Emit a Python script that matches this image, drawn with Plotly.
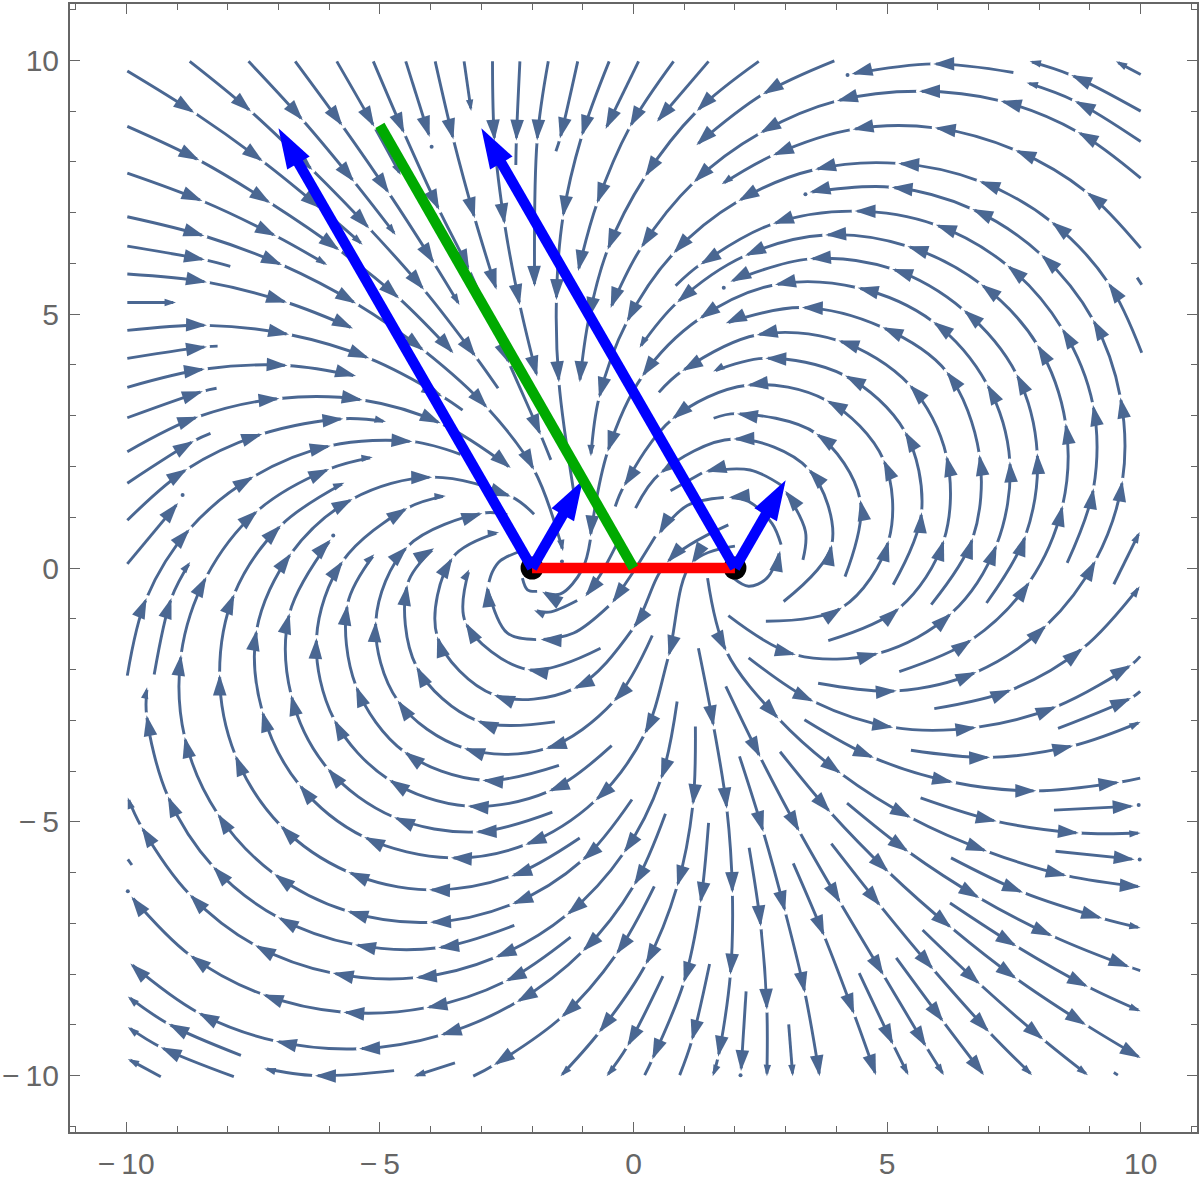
import math

import plotly.graph_objects as go

# streamlines, in axis units.
# every point after the first one carries an arrowhead, the curve breaks just past it
arrow_chains = [
    [(-9.98, 8.70), (-8.56, 8.03), (-7.16, 7.19), (-5.80, 6.26), (-4.62, 5.31), (-3.55, 4.23)],
    [(-9.98, 5.79), (-8.41, 5.63), (-6.83, 5.23), (-5.53, 4.72)],
    [(-9.98, 3.56), (-8.45, 3.92), (-6.82, 3.99), (-5.47, 3.78)],
    [(-9.98, 2.29), (-8.58, 2.98), (-6.98, 3.34), (-5.34, 3.31), (-3.80, 2.85), (-2.42, 1.97)],
    [(-9.98, 0.08), (-8.98, 1.28)],
    [(-1.55, -3.03), (-3.08, -3.01), (-4.28, -1.94), (-4.46, -0.33), (-3.93, 0.39)],
    [(-1.60, -4.81), (-3.11, -5.20), (-4.72, -4.91), (-6.03, -3.95), (-6.75, -2.50), (-6.78, -0.89), (-5.97, 0.56)],
    [(5.87, -0.72), (6.69, 0.59), (6.82, 2.23), (6.17, 3.87), (4.91, 4.74), (3.32, 5.13), (1.82, 4.82)],
    [(1.87, -0.94), (3.20, -1.71), (4.83, -1.68), (6.27, -0.89), (7.16, 0.46), (7.42, 2.10), (6.97, 3.62),
     (5.91, 4.85), (4.42, 5.52), (2.79, 5.58), (1.30, 4.91), (0.17, 3.77), (-0.51, 2.29), (-0.85, 0.62)],
    [(6.96, -0.69), (7.73, 0.64), (7.96, 2.26), (7.55, 3.82), (6.51, 5.08), (5.10, 5.89), (3.48, 6.09), (1.91, 5.64)],
    [(3.64, -2.27), (5.19, -2.42), (6.76, -2.05), (8.14, -1.13), (9.11, 0.15), (9.64, 1.72), (9.60, 3.36),
     (9.06, 4.89), (8.04, 6.17), (6.68, 7.07), (5.09, 7.50), (3.47, 7.40)],
    [(3.96, 9.99), (2.55, 9.33), (1.24, 8.33)],
    [(2.47, 9.98), (1.25, 9.00), (0.23, 7.71), (-0.51, 6.27), (-0.88, 4.92), (-1.06, 3.66)],
    [(1.48, 9.98), (0.46, 8.79)],
    [(0.79, 9.98), (-0.07, 8.69), (-0.72, 7.18), (-1.09, 5.85)],
    [(0.10, 9.98), (-0.55, 8.65)],
    [(-1.68, 9.98), (-1.90, 8.42), (-1.95, 5.54)],
    [(-2.78, 9.98), (-2.74, 8.42), (-2.54, 6.77), (-2.24, 5.18), (-1.90, 3.77)],
    [(-3.91, 9.98), (-3.55, 8.44), (-3.13, 6.89), (-2.70, 5.48)],
    [(-4.49, 9.98), (-4.02, 8.49)],
    [(10.0, 7.68), (8.76, 8.59), (7.24, 9.20), (5.63, 9.39), (4.01, 9.20), (2.50, 8.57), (1.19, 7.60), (0.15, 6.31), (-0.45, 5.12)],
    [(7.49, 9.76), (5.91, 9.93), (4.30, 9.73)],
    [(1.46, -0.20), (1.83, -1.64), (2.86, -2.97), (4.09, -4.05), (5.47, -4.92), (6.97, -5.58), (8.54, -6.06), (10.0, -6.28)],
    [(8.29, -4.77), (9.86, -4.69)],
    [(8.32, -5.58), (9.88, -5.74)],
    [(2.89, -3.62), (3.88, -4.81), (5.03, -5.99), (6.27, -7.09), (7.55, -8.09), (8.92, -9.00), (10.0, -9.65)],
    [(-1.24, -7.27), (-2.52, -8.14), (-4.08, -8.66), (-5.72, -8.75), (-7.31, -8.40), (-8.74, -7.63), (-9.90, -6.47)],
    [(0.63, -4.84), (0.01, -6.25), (-1.00, -7.55), (-2.30, -8.55), (-3.80, -9.20), (-5.41, -9.47), (-7.05, -9.32), (-8.58, -8.76), (-9.92, -7.79)],
    [(2.09, -3.71), (2.56, -5.20), (2.99, -6.77), (3.38, -8.37), (3.67, -10.01)],
    [(3.15, -5.82), (3.76, -7.25), (4.35, -8.79), (4.78, -9.99)],
    [(5.18, -7.68), (6.11, -8.94), (6.91, -9.99)],
    [(2.22, -8.34), (2.12, -9.91)],
]

# same, the last arrowhead of the line is a small one
small_end_chains = [
    [(-9.98, 9.79), (-8.66, 8.97), (-7.31, 8.01), (-6.16, 7.08), (-5.34, 6.37)],
    [(-9.98, 7.78), (-8.50, 7.23), (-7.05, 6.54), (-6.04, 5.97)],
    [(-9.98, 5.23), (-9.02, 5.23)],
    [(-9.98, 6.92), (-8.46, 6.54), (-6.93, 5.97), (-5.47, 5.21), (-4.13, 4.28), (-2.88, 3.15), (-1.96, 1.93), (-1.39, 0.33)],
    [(-9.98, 0.94), (-8.80, 1.95), (-7.32, 2.64), (-5.72, 2.94), (-4.88, 2.88)],
    [(-9.45, -2.10), (-9.11, -0.59), (-8.74, 0.12)],
    [(-0.03, -4.56), (-1.01, -5.76), (-2.39, -6.62), (-4.01, -6.98), (-5.64, -6.76), (-7.08, -6.03), (-8.20, -4.84),
     (-8.85, -3.33), (-8.92, -1.71), (-8.42, -0.17), (-7.41, 1.13), (-6.00, 1.95), (-5.14, 2.18)],
    [(-1.06, -5.32), (-2.41, -6.07), (-4.03, -6.34), (-5.62, -5.99), (-6.96, -5.07), (-7.85, -3.69), (-8.16, -2.10),
     (-7.87, -0.51), (-6.95, 0.84), (-5.70, 1.68)],
    [(-0.43, -3.50), (-1.67, -4.40), (-3.27, -4.69), (-4.82, -4.17), (-5.90, -2.99), (-6.25, -1.38), (-5.73, 0.14), (-4.46, 1.18), (-3.70, 1.42)],
    [(-1.47, -3.89), (-2.98, -4.18), (-4.52, -3.62), (-5.47, -2.33), (-5.64, -0.72), (-5.11, 0.27)],
    [(1.87, 0.85), (0.66, 0.11), (0.00, -1.18), (-1.18, -2.38), (-2.75, -2.50), (-3.87, -1.35), (-3.57, 0.20), (-2.65, 0.70)],
    [(-0.65, -1.58), (-2.09, -2.00), (-3.31, -1.08), (-3.24, -0.03)],
    [(5.12, -0.33), (5.68, 1.10), (5.35, 2.69), (4.17, 3.79), (2.60, 4.13), (1.57, 3.87)],
    [(5.24, -2.04), (6.67, -1.41), (7.81, -0.27), (8.46, 1.23), (8.52, 2.85), (7.96, 4.40), (6.85, 5.59), (5.40, 6.34),
     (3.78, 6.56), (2.20, 6.15), (0.86, 5.23), (0.12, 4.34)],
    [(10.0, 6.30), (8.94, 7.40), (7.53, 8.23), (5.94, 8.67), (4.32, 8.64), (2.75, 8.13), (1.74, 7.56)],
    [(10.02, 4.24), (9.36, 5.62), (8.24, 6.82), (6.82, 7.62), (5.22, 7.97), (3.58, 7.85), (2.07, 7.23), (0.79, 6.20),
     (-0.13, 4.85), (-0.68, 3.35), (-0.84, 2.20)],
    [(10.0, 8.40), (8.70, 9.20), (7.75, 9.56)],
    [(10.0, 9.00), (8.63, 9.71), (7.81, 9.98)],
    [(10.0, 9.72), (9.51, 9.98)],
    [(-3.34, 9.98), (-3.20, 9.00)],
    [(-5.85, 9.98), (-5.11, 8.69), (-4.59, 7.74)],
    [(-6.67, 9.98), (-5.74, 8.71), (-4.82, 7.38), (-3.93, 6.00), (-3.43, 5.18)],
    [(-7.59, 9.98), (-6.52, 8.82), (-5.51, 7.61), (-4.69, 6.56)],
    [(5.93, -2.77), (7.45, -2.40), (8.86, -1.58), (9.98, -0.36)],
    [(9.47, -0.32), (9.98, 0.71)],
    [(5.47, -3.59), (7.03, -3.73), (8.67, -3.50), (10.0, -3.03)],
    [(5.66, -4.53), (7.16, -4.99), (8.78, -5.22), (10.0, -5.22)],
    [(6.26, -5.71), (7.68, -6.39), (9.24, -6.90), (10.0, -7.09)],
    [(3.90, -5.43), (4.87, -6.66), (5.91, -7.91), (7.01, -9.14), (7.86, -9.99)],
    [(6.24, -6.60), (7.55, -7.45), (8.96, -8.25), (10.0, -8.73)],
    [(5.70, -7.13), (6.83, -8.20), (8.08, -9.29), (8.96, -9.99)],
    [(4.45, -7.98), (5.12, -9.39), (5.42, -9.99)],
    [(1.82, -2.33), (2.50, -3.73), (3.27, -5.19), (4.08, -6.60), (4.93, -8.02), (5.77, -9.43), (6.12, -9.99)],
    [(1.28, -1.58), (1.58, -3.12), (1.84, -4.74), (1.95, -6.40), (1.91, -8.01), (1.67, -9.63), (1.56, -10.01)],
    [(1.22, -3.12), (1.17, -4.67), (0.86, -6.27), (0.24, -7.81), (-0.68, -9.15), (-1.44, -10.01)],
    [(0.86, -2.63), (0.54, -4.16), (-0.19, -5.61), (-1.31, -6.83), (-2.72, -7.67), (-4.29, -8.07), (-5.93, -7.98),
     (-7.46, -7.43), (-8.75, -6.43), (-9.70, -5.10), (-9.97, -4.52)],
    [(-2.35, -7.04), (-3.85, -7.48), (-5.49, -7.42), (-7.01, -6.88), (-8.29, -5.88), (-9.18, -4.50), (-9.60, -2.90), (-9.59, -2.35)],
    [(-7.74, -9.60), (-9.17, -8.98), (-9.97, -8.44)],
    [(-7.88, -10.02), (-9.32, -9.44), (-9.97, -9.04)],
    [(-9.32, -10.02), (-9.97, -9.67)],
    [(-4.72, -9.90), (-6.28, -10.0), (-7.28, -9.86)],
    [(-3.52, -9.75), (-4.33, -10.01)],
    [(0.58, -8.04), (-0.12, -9.42), (-0.53, -10.01)],
    [(2.28, -5.51), (2.51, -7.06), (2.63, -8.70), (2.63, -10.01)],
    [(3.06, -8.99), (3.14, -10.01)],
]

# same, the line stops in a short piece without arrowhead
dash_end_chains = [
    [(-9.98, 6.34), (-8.45, 6.07), (-7.95, 5.94)],
    [(-9.98, 4.68), (-8.41, 4.78), (-6.79, 4.60), (-5.21, 4.13), (-3.77, 3.38), (-3.37, 3.11)],
    [(-9.98, 4.13), (-8.41, 4.36), (-8.20, 4.37)],
    [(-9.98, 2.96), (-8.49, 3.48), (-8.22, 3.54)],
    [(-9.98, 1.67), (-8.67, 2.50), (-8.34, 2.65)],
    [(-9.98, -2.12), (-9.60, -0.59), (-8.75, 0.77), (-7.49, 1.80), (-5.97, 2.41), (-4.36, 2.49), (-3.41, 2.24)],
    [(2.00, 0.43), (1.15, 0.10), (0.69, -1.74), (0.22, -3.27), (-0.75, -4.58), (-2.13, -5.45), (-3.60, -5.71), (-5.31, -5.30),
     (-6.59, -4.27), (-7.32, -2.82), (-7.43, -1.22), (-6.75, 0.29), (-5.54, 1.36), (-3.97, 1.79), (-2.42, 1.41), (-1.96, 1.06)],
    [(0.37, -1.33), (-0.39, -2.63), (-1.73, -3.56), (-3.34, -3.55), (-4.65, -2.61), (-5.08, -1.05), (-4.46, 0.42), (-2.98, 1.08), (-2.49, 1.05)],
    [(2.96, -0.66), (3.91, 0.46), (3.45, 1.95), (1.97, 2.54), (0.53, 1.87), (0.04, 1.18)],
    [(4.17, -0.17), (4.47, 1.34), (3.60, 2.65), (2.04, 3.04), (1.58, 2.95)],
    [(2.61, -1.05), (4.11, -0.78), (5.03, 0.54), (4.93, 2.13), (3.81, 3.30), (2.24, 3.60), (0.76, 2.93), (-0.19, 1.61), (-0.36, 1.21)],
    [(3.84, -1.43), (5.24, -0.79), (6.12, 0.55), (6.17, 2.21), (5.44, 3.61), (4.04, 4.48), (2.43, 4.59), (0.96, 3.88), (0.50, 3.46)],
    [(8.55, 0.10), (9.07, 1.57), (9.06, 3.21), (8.45, 4.72), (7.37, 5.96), (5.96, 6.76), (4.36, 7.03), (2.75, 6.78), (1.32, 5.98), (0.83, 5.56)],
    [(-1.10, 9.98), (-1.45, 8.46), (-1.53, 8.21)],
    [(-2.24, 9.98), (-2.31, 8.42), (-2.32, 7.94)],
    [(-0.48, 9.98), (-1.02, 8.51), (-1.39, 6.92), (-1.52, 5.28), (-1.47, 3.66), (-1.18, 1.51)],
    [(-5.13, 9.98), (-4.52, 8.56), (-3.83, 7.05), (-3.24, 5.87), (-2.45, 4.03), (-1.83, 2.62), (-1.63, 2.13)],
    [(-8.75, 9.98), (-7.54, 8.99), (-6.33, 7.84), (-5.21, 6.69), (-4.13, 5.48), (-3.11, 4.16), (-2.67, 3.54)],
    [(2.27, -1.77), (3.55, -2.63), (5.12, -3.14), (6.76, -3.14), (8.34, -2.73), (9.81, -1.91), (9.99, -1.74)],
    [(8.37, -3.16), (9.81, -2.56), (9.99, -2.43)],
    [(3.37, -2.99), (4.74, -3.74), (6.30, -4.22), (7.94, -4.39), (9.58, -4.22), (9.99, -4.14)],
    [(4.21, -4.63), (5.42, -5.59), (6.82, -6.50), (8.26, -7.25), (9.78, -7.86), (9.99, -7.93)],
    [(1.48, -5.02), (1.32, -6.60), (0.99, -8.17), (0.37, -9.68), (0.22, -9.99)],
    [(0.41, -6.27), (-0.34, -7.61), (-1.42, -8.85), (-2.75, -9.79), (-3.16, -10.01)],
    [(1.50, -7.80), (1.15, -9.31), (0.91, -9.99)],
]

# tight bends around the two discs: one head only, at the last point
curved_strokes = [
    [(1.97, -0.20), (2.27, -0.36), (2.63, -0.20), (2.89, 0.34)],
    [(2.91, 0.46), (2.73, 0.88), (2.27, 1.31), (1.88, 1.39)],
    [(1.78, 1.39), (1.06, 1.23), (0.50, 0.67)],
    [(0.43, 0.62), (0.00, -0.07), (-0.42, -0.69)],
    [(-0.49, -0.75), (-1.18, -1.28), (-1.83, -1.41)],
    [(-1.92, -1.41), (-2.49, -1.28), (-2.89, -0.36)],
    [(3.34, 0.16), (3.39, 0.72), (2.99, 1.52)],
    [(2.96, 1.60), (2.30, 1.93), (1.42, 1.90)],
    [(-0.85, 0.56), (-1.01, -0.03), (-1.44, -0.51), (-1.80, -0.47)],
    [(-0.32, 0.49), (-0.65, -0.13), (-0.95, -0.56)],
]
curved_small_strokes = [
    [(-1.11, -0.64), (-1.67, -0.87), (-1.96, -0.83)],
]

# pieces with no head at all
plain_strokes = [
    [(-2.85, -0.28), (-2.78, -0.07), (-2.63, 0.14), (-2.23, 0.33)],
    [(1.35, 1.87), (0.73, 1.52)],
    [(-1.90, -0.46), (-2.09, -0.43), (-2.19, -0.20)],
    [(10.02, 5.58), (9.93, 5.72)],
    [(9.47, -9.94), (9.55, -9.99)],
    [(-9.97, -5.74), (-9.89, -5.85)],
]

dot_x = [-1.41, -8.89, -5.92, 3.39, 4.22, -3.98, 1.78, 9.96, 9.98, 2.11, -9.97]
dot_y = [0.13, 1.44, 0.64, 7.36, 9.71, 8.30, 5.52, -4.67, -5.74, -9.99, -6.37]

charge_x = [-2, 2]
charge_y = [0, 0]
separation_x = [-2, 2]
separation_y = [0, 0]
field_base = [(-2, 0), (2, 0), (-2, 0), (2, 0)]
field_tip = [(-7, 8.66), (-3, 8.66), (-1, 1.73), (3, 1.73)]
dipole_x = [0, -5]
dipole_y = [0, 8.72]

tick_vals = [-10, -5, 0, 5, 10]
tick_text = ["\u2212\u200910", "\u2212\u20095", "0", "5", "10"]
axis_range = [-11.11, 11.11]

STREAM_COLOR = "#4a6792"
FRAME_COLOR = "#666666"


def unit(dx, dy):
    n = math.hypot(dx, dy) or 1.0
    return dx / n, dy / n


def head_angle(pts, i):
    # plotly marker angle, clockwise from up, along the tangent of the spline
    if i < len(pts) - 1:
        dx, dy = pts[i + 1][0] - pts[i - 1][0], pts[i + 1][1] - pts[i - 1][1]
    elif len(pts) == 2:
        dx, dy = pts[1][0] - pts[0][0], pts[1][1] - pts[0][1]
    else:
        ax, ay = unit(pts[-1][0] - pts[-2][0], pts[-1][1] - pts[-2][1])
        bx, by = unit(pts[-1][0] - pts[-3][0], pts[-1][1] - pts[-3][1])
        dx, dy = 2 * ax - bx, 2 * ay - by
    return math.degrees(math.atan2(dx, dy))


line_x, line_y = [], []
head_x, head_y, head_a, head_s = [], [], [], []


def add_line(pts):
    line_x.extend([p[0] for p in pts] + [None])
    line_y.extend([p[1] for p in pts] + [None])


def add_head(pts, i, size):
    head_x.append(pts[i][0])
    head_y.append(pts[i][1])
    head_a.append(head_angle(pts, i))
    head_s.append(size)


for pts in arrow_chains:
    add_line(pts)
    for i in range(1, len(pts)):
        add_head(pts, i, 22)
for pts in small_end_chains:
    add_line(pts)
    for i in range(1, len(pts)):
        add_head(pts, i, 22 if i < len(pts) - 1 else 12)
for pts in dash_end_chains:
    add_line(pts)
    for i in range(1, len(pts) - 1):
        add_head(pts, i, 22)
for pts in curved_strokes:
    add_line(pts)
    add_head(pts, len(pts) - 1, 22)
for pts in curved_small_strokes:
    add_line(pts)
    add_head(pts, len(pts) - 1, 12)
for pts in plain_strokes:
    add_line(pts)

fig = go.Figure()
fig.add_trace(go.Scatter(x=line_x, y=line_y, mode="lines",
                         line=dict(color=STREAM_COLOR, width=2.9, shape="spline", smoothing=1)))
# white disc under each head opens the small break in the curve
fig.add_trace(go.Scatter(x=head_x, y=head_y, mode="markers",
                         marker=dict(symbol="circle", color="white", size=6, line_width=0)))
# opacity has to be set, an array of sizes would otherwise default to 0.7
fig.add_trace(go.Scatter(x=head_x, y=head_y, mode="markers",
                         marker=dict(symbol="arrow", color=STREAM_COLOR, size=head_s, angle=head_a, line_width=0, opacity=1)))
fig.add_trace(go.Scatter(x=dot_x, y=dot_y, mode="markers",
                         marker=dict(symbol="circle", color=STREAM_COLOR, size=4, line_width=0)))

fig.add_trace(go.Scatter(x=charge_x, y=charge_y, mode="markers",
                         marker=dict(symbol="circle", color="black", size=23, line_width=0)))
fig.add_trace(go.Scatter(x=separation_x, y=separation_y, mode="lines", line=dict(color="#ff0000", width=10.5)))

for base, tip in zip(field_base, field_tip):
    ux, uy = unit(tip[0] - base[0], tip[1] - base[1])
    # shaft stops inside the head so the point stays sharp
    fig.add_trace(go.Scatter(x=[base[0], tip[0] - 0.6 * ux], y=[base[1], tip[1] - 0.6 * uy], mode="lines",
                             line=dict(color="#0000ff", width=10.5)))
    fig.add_trace(go.Scatter(x=[tip[0]], y=[tip[1]], mode="markers",
                             marker=dict(symbol="arrow", color="#0000ff", size=42, line_width=0,
                                         angle=[math.degrees(math.atan2(ux, uy))])))

fig.add_trace(go.Scatter(x=dipole_x, y=dipole_y, mode="lines", line=dict(color="#00aa00", width=10.5)))

axis_style = dict(
    range=axis_range,
    tickvals=tick_vals,
    ticktext=tick_text,
    ticks="inside",
    ticklen=10,
    tickwidth=1,
    tickcolor=FRAME_COLOR,
    minor=dict(dtick=1, tick0=0, ticks="inside", ticklen=6, tickwidth=1, tickcolor=FRAME_COLOR),
    showline=True,
    linecolor=FRAME_COLOR,
    linewidth=2,
    mirror="allticks",
    showgrid=False,
    zeroline=False,
    tickfont=dict(family="Liberation Sans", size=30, color=FRAME_COLOR),
)
fig.update_layout(
    width=1201,
    height=1184,
    margin=dict(l=69, r=3, t=2, b=52),
    paper_bgcolor="white",
    plot_bgcolor="white",
    showlegend=False,
    xaxis=dict(axis_style, ticklabelstandoff=4),
    yaxis=dict(axis_style, ticklabelstandoff=3),
)

fig.write_html("out.html", config=dict(displayModeBar=False), post_script="document.body.style.margin='0';")
